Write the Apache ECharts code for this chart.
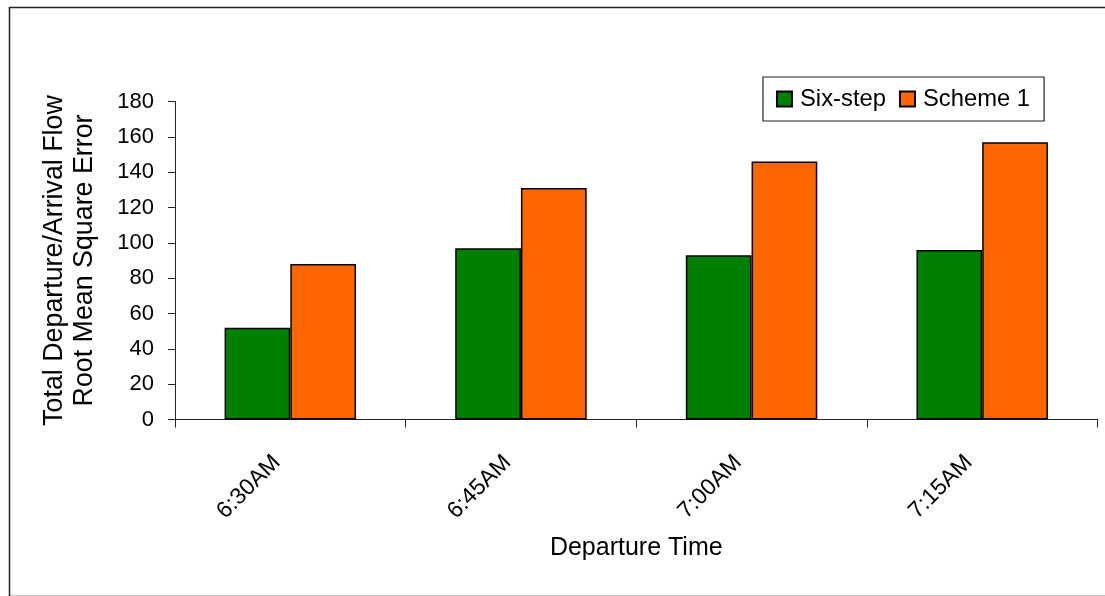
<!DOCTYPE html>
<html>
<head>
<meta charset="utf-8">
<script src="https://cdn.jsdelivr.net/npm/echarts@6/dist/echarts.min.js"></script>
<style>
  html, body { margin: 0; padding: 0; background: #fff; }
  #chart { width: 1105px; height: 596px; }
</style>
</head>
<body>
<div id="chart"></div>
<script>
// Departure time slots on the category axis
const categories = ['6:30AM', '6:45AM', '7:00AM', '7:15AM'];
// Root mean square error of total departure/arrival flow
const sixStep = [52, 97, 93, 96];
const scheme1 = [88, 131, 146, 157];
// Value axis range and ticks
const yMin = 0;
const yMax = 180;
const yStep = 20;

const FONT = '"Liberation Sans", Arial, sans-serif';

const chart = echarts.init(document.getElementById('chart'), null, { renderer: 'canvas' });

chart.setOption({
  backgroundColor: '#ffffff',
  animation: false,
  textStyle: { fontFamily: FONT, color: '#000' },
  graphic: [{
    type: 'rect',
    left: 7, top: 5,
    shape: { width: 1100, height: 589 },
    style: { fill: 'none', stroke: '#222', lineWidth: 1.5 },
    silent: true
  }],
  legend: {
    left: 763, top: 77,
    padding: [10, 14, 10, 13],
    itemWidth: 15, itemHeight: 15, itemGap: 13,
    borderColor: '#222', borderWidth: 1.2,
    backgroundColor: '#fff',
    icon: 'rect',
    textStyle: { fontFamily: FONT, fontSize: 23.8, color: '#000', padding: [0, 0, 0, 3] },
    data: ['Six-step', 'Scheme 1']
  },
  grid: { left: 175, top: 101.5, right: 7.5, bottom: 176.5, containLabel: false },
  xAxis: {
    type: 'category',
    data: categories,
    boundaryGap: true,
    name: 'Departure Time',
    nameLocation: 'middle',
    nameGap: 116,
    nameTextStyle: { fontFamily: FONT, fontSize: 25, color: '#000' },
    axisLine: { lineStyle: { color: '#222', width: 1 } },
    axisTick: { show: true, length: 8, alignWithLabel: false, lineStyle: { color: '#222' } },
    axisLabel: { rotate: 45, margin: 26, padding: [0, 19, 0, 0], fontFamily: FONT, fontSize: 23, color: '#000' },
    splitLine: { show: false }
  },
  yAxis: {
    type: 'value',
    min: yMin, max: yMax, interval: yStep,
    name: 'Total Departure/Arrival Flow\nRoot Mean Square Error',
    nameLocation: 'middle',
    nameGap: 75,
    nameTextStyle: { fontFamily: FONT, fontSize: 26.8, color: '#000', lineHeight: 30 },
    axisLine: { show: true, lineStyle: { color: '#222', width: 1 } },
    axisTick: { show: true, length: 7, lineStyle: { color: '#222' } },
    axisLabel: { margin: 21, fontFamily: FONT, fontSize: 22, color: '#000' },
    splitLine: { show: false }
  },
  series: [
    {
      name: 'Six-step',
      type: 'bar',
      data: sixStep,
      barGap: '0%',
      barCategoryGap: '43%',
      itemStyle: { color: '#008000', borderColor: '#000', borderWidth: 1.5 }
    },
    {
      name: 'Scheme 1',
      type: 'bar',
      data: scheme1,
      barGap: '0%',
      barCategoryGap: '43%',
      itemStyle: { color: '#ff6600', borderColor: '#000', borderWidth: 1.5 }
    }
  ]
});
</script>
</body>
</html>
